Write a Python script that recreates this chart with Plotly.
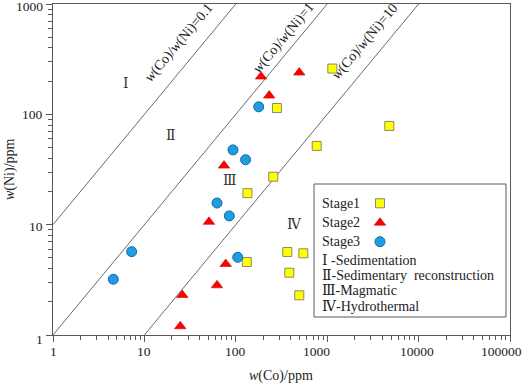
import math
import plotly.graph_objects as go

# ---------------- data ----------------
stage1_co = [1138, 282, 4780, 768, 257, 134, 132, 366, 548, 385, 495]
stage1_ni = [260, 114, 78.5, 51.7, 27.2, 19.3, 4.59, 5.66, 5.5, 3.67, 2.29]

stage2_co = [189, 495, 232, 74.3, 50.9, 77.6, 62.3, 26.0, 24.7]
stage2_ni = [220, 239, 148, 34.3, 10.6, 4.4, 2.82, 2.3, 1.2]

stage3_co = [178, 93.2, 128, 62.3, 84.9, 7.26, 4.57, 105]
stage3_ni = [117, 47.6, 38.8, 15.7, 12.0, 5.69, 3.2, 5.06]

ratios = [0.1, 1, 10]
ratio_labels = ["<i>w</i>(Co)/<i>w</i>(Ni)=0.1", "<i>w</i>(Co)/<i>w</i>(Ni)=1", "<i>w</i>(Co)/<i>w</i>(Ni)=10"]
line_x = [1, 100000]

field_labels = ["Ⅰ", "Ⅱ", "Ⅲ", "Ⅳ"]
stage_names = ["Stage1", "Stage2", "Stage3"]
legend_notes = ["Ⅰ -Sedimentation", "Ⅱ-Sedimentary  reconstruction", "Ⅲ-Magmatic", "Ⅳ-Hydrothermal"]

x_tickvals = [1, 10, 100, 1000, 10000, 100000]
x_ticktext = ["1", "10", "100", "1000", "10000", "100000"]
y_tickvals = [1, 10, 100, 1000]
y_ticktext = ["1", "10", "100", "1000"]

# ---------------- styling ----------------
W, H = 526, 385
L, R, T, B = 53, 16, 4, 50
PW, PH = W - L - R, H - T - B
FONT = "Liberation Serif, Times New Roman, DejaVu Serif, serif"
AX = "#5a5a5a"
TICKFONT = dict(family=FONT, size=13.5, color="#222")
x_label_shift = [0, 0, 0, -11, -2, -9]
y_label_shift = [-4, -2, 0, -2]

def px_x(px):  # pixel -> paper x
    return (px - L) / PW

def px_y(py):  # pixel -> paper y
    return (H - B - py) / PH

styles = [
    dict(symbol="square", size=9, color="#FFFF00", line=dict(color="#8a8a6a", width=1)),
    dict(symbol="triangle-up", size=10, color="#FF0000", line=dict(color="#d00000", width=0.6)),
    dict(symbol="circle", size=10, color="#1E9DE2", line=dict(color="#1565A8", width=1)),
]

fig = go.Figure()

for r in ratios:
    fig.add_trace(go.Scatter(x=line_x, y=[v / r for v in line_x], mode="lines",
                             line=dict(color="#6a6a6a", width=1), showlegend=False,
                             hoverinfo="skip"))

for name, xs, ys, st in zip(stage_names, [stage1_co, stage2_co, stage3_co],
                            [stage1_ni, stage2_ni, stage3_ni], styles):
    fig.add_trace(go.Scatter(x=xs, y=ys, mode="markers", name=name, marker=st,
                             showlegend=False, cliponaxis=False))

# legend keys on an overlay paper-like axis
leg_rows_y = [203.3, 222.7, 241.7]
for py, st in zip(leg_rows_y, styles):
    fig.add_trace(go.Scatter(x=[px_x(380)], y=[px_y(py)], mode="markers", marker=st,
                             xaxis="x2", yaxis="y2", showlegend=False, hoverinfo="skip"))

annotations = []
def ann(text, px, py, size=14, color="#222", angle=0, xanchor="center"):
    annotations.append(dict(text=text, xref="paper", yref="paper", x=px_x(px), y=px_y(py),
                            xanchor=xanchor, yanchor="middle", showarrow=False,
                            textangle=angle, font=dict(family=FONT, size=size, color=color)))

# ratio line labels
lab_pos = [(179, 43.5), (284, 38.5), (365, 42.5)]
for txt, (px, py) in zip(ratio_labels, lab_pos):
    ann(txt, px, py, angle=-50)
# field labels
fld_pos = [(126, 83), (171, 135), (230, 180), (294, 224)]
for txt, (px, py) in zip(field_labels, fld_pos):
    ann(txt, px, py, color="#333")
# legend text
for txt, py in zip(stage_names + legend_notes, leg_rows_y + [260, 275.7, 290, 306.7]):
    ann(txt, 320, py, xanchor="left")
# axis titles
ann("<i>w</i>(Co)/ppm", 281, 376)
ann("<i>w</i>(Ni)/ppm", 10, 169, angle=-90)

# tick labels (placed through the axes' own scales)
for v, t, s in zip(x_tickvals, x_ticktext, x_label_shift):
    annotations.append(dict(text=t, xref="x", yref="paper", x=math.log10(v), y=px_y(352),
                            xanchor="center", yanchor="middle", xshift=s, showarrow=False,
                            font=TICKFONT))
for v, t, s in zip(y_tickvals, y_ticktext, y_label_shift):
    annotations.append(dict(text=t, xref="paper", yref="y", x=px_x(45), y=math.log10(v),
                            xanchor="right", yanchor="middle", yshift=s, showarrow=False,
                            font=TICKFONT))

shapes = [dict(type="rect", xref="paper", yref="paper", x0=px_x(314), x1=px_x(506),
               y0=px_y(317), y1=px_y(184), line=dict(color=AX, width=1), fillcolor="white",
               layer="below")]

axis_common = dict(type="log", showgrid=False, zeroline=False, showline=True, linecolor=AX,
                   linewidth=1.2, mirror=True, ticks="outside", ticklen=6, tickcolor=AX,
                   tickwidth=1, tickmode="array", automargin=False, showticklabels=False,
                   minor=dict(ticks="outside", ticklen=4, tickcolor=AX, dtick="D1", showgrid=False))

fig.update_layout(
    width=W, height=H, margin=dict(l=L, r=R, t=T, b=B, autoexpand=False),
    paper_bgcolor="white", plot_bgcolor="white",
    xaxis=dict(axis_common, range=[0, 5], tickvals=x_tickvals),
    yaxis=dict(axis_common, range=[0, 3], tickvals=y_tickvals),
    xaxis2=dict(overlaying="x", range=[0, 1], visible=False, anchor="y2"),
    yaxis2=dict(overlaying="y", range=[0, 1], visible=False, anchor="x2"),
    annotations=annotations, shapes=shapes, showlegend=False,
)

fig.write_html("out.html", config={"displayModeBar": False},
               post_script="document.body.style.margin='0px';document.body.style.overflow='hidden';")
